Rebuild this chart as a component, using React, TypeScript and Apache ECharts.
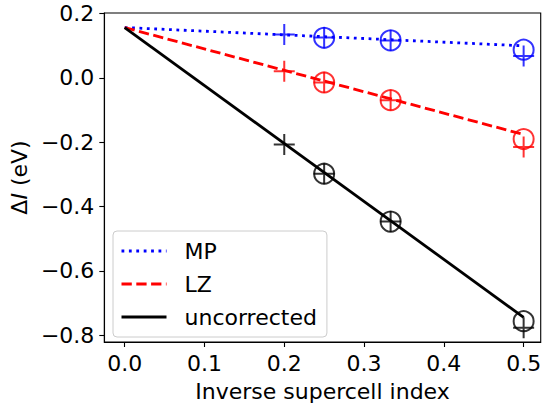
import React, { useEffect, useRef } from "react";
import * as echarts from "echarts";

// ---- data ----
const plusX = [0.2, 0.25, 0.3333, 0.5];
const circleX = [0.25, 0.3333, 0.5];
const fitX = [0, 0.5];

const mpPlus = [0.135, 0.126, 0.117, 0.068];
const mpCircle = [0.125, 0.117, 0.088];
const mpFit = [0.157, 0.1];

const lzPlus = [0.021, -0.014, -0.069, -0.215];
const lzCircle = [-0.014, -0.069, -0.19];
const lzFit = [0.157, -0.176];

const unPlus = [-0.207, -0.298, -0.447, -0.777];
const unCircle = [-0.298, -0.447, -0.757];
const unFit = [0.157, -0.745];

const xTicks = [0, 0.1, 0.2, 0.3, 0.4, 0.5];
const yTicks = [-0.8, -0.6, -0.4, -0.2, 0, 0.2];

const FONT = "DejaVu Sans";
const BLUE = "#0000ff";
const RED = "#ff0000";
const BLACK = "#000000";
const PLUS = "path://M10,0 L10,20 M0,10 L20,10";

const zip = (xs: number[], ys: number[]) => xs.map((x, i) => [x, ys[i]]);
const fmt = (v: number) => {
  const s = Math.abs(v).toFixed(1);
  return v < -1e-9 ? "\u2212" + s : s;
};

export default function App() {
  const ref = useRef<HTMLDivElement>(null);
  useEffect(() => {
    if (!ref.current) return;
    const chart = echarts.init(ref.current, null, { renderer: "svg" });

    const fitSeries = (name: string, ys: number[], color: string, type: any) => ({
      name,
      type: "line",
      data: zip(fitX, ys),
      symbol: "none",
      lineStyle: { color, width: 2.8, type, cap: "butt" },
      itemStyle: { color },
      z: 3,
    });
    const plusSeries = (name: string, ys: number[], color: string) => ({
      name,
      type: "scatter",
      data: zip(plusX, ys),
      symbol: PLUS,
      symbolSize: 21,
      itemStyle: { color: "transparent", borderColor: color, borderWidth: 2 },
      z: 4,
    });
    const circleSeries = (name: string, ys: number[], color: string) => ({
      name,
      type: "scatter",
      data: zip(circleX, ys),
      symbol: "circle",
      symbolSize: 20,
      itemStyle: { color: "transparent", borderColor: color, borderWidth: 2 },
      z: 4,
    });

    chart.setOption({
      animation: false,
      backgroundColor: "#fff",
      textStyle: { fontFamily: FONT },
      grid: {
        left: 101,
        top: 13,
        width: 442,
        height: 331,
        show: true,
        borderColor: BLACK,
        borderWidth: 1.1,
        backgroundColor: "transparent",
      },
      xAxis: {
        type: "value",
        min: -0.0255,
        max: 0.5214,
        name: "Inverse supercell index",
        nameLocation: "middle",
        nameGap: 38,
        nameTextStyle: { fontSize: 22, color: BLACK, fontFamily: FONT },
        axisLine: { show: true, onZero: false, lineStyle: { color: BLACK, width: 1.1 } },
        axisTick: {
          show: true,
          length: 5,
          inside: false,
          lineStyle: { color: BLACK, width: 1.1 },
          customValues: xTicks,
        },
        axisLabel: {
          fontSize: 22,
          color: BLACK,
          fontFamily: FONT,
          margin: 10,
          customValues: xTicks,
          formatter: (v: number) => fmt(v),
        },
        splitLine: { show: false },
      },
      yAxis: {
        type: "value",
        min: -0.8217,
        max: 0.2022,
        name: "{a|\u0394}{i|I}{a| (eV)}",
        nameLocation: "middle",
        nameRotate: 90,
        nameGap: 59,
        nameTextStyle: {
          fontSize: 22,
          color: BLACK,
          fontFamily: FONT,
          rich: {
            a: { fontSize: 22, color: BLACK, fontFamily: FONT },
            i: { fontSize: 22, color: BLACK, fontFamily: FONT, fontStyle: "italic" },
          },
        },
        axisLine: { show: true, onZero: false, lineStyle: { color: BLACK, width: 1.1 } },
        axisTick: {
          show: true,
          length: 5,
          inside: false,
          lineStyle: { color: BLACK, width: 1.1 },
          customValues: yTicks,
        },
        axisLabel: {
          fontSize: 22,
          color: BLACK,
          fontFamily: FONT,
          margin: 10,
          customValues: yTicks,
          formatter: (v: number) => fmt(v),
        },
        splitLine: { show: false },
      },
      legend: {
        orient: "vertical",
        left: 113,
        top: 231,
        data: ["MP", "LZ", "uncorrected"],
        itemWidth: 45,
        itemHeight: 14,
        itemGap: 11,
        padding: [9, 10, 9, 7],
        backgroundColor: "#fff",
        borderColor: "#cccccc",
        borderWidth: 1,
        borderRadius: 4,
        itemStyle: { color: "transparent", borderColor: "transparent", borderWidth: 0, opacity: 0 },
        lineStyle: { width: 3 },
        textStyle: { fontSize: 22, color: BLACK, fontFamily: FONT, padding: [0, 0, 0, 13] },
      },
      series: [
        fitSeries("MP", mpFit, BLUE, [2.8, 4.6]),
        fitSeries("LZ", lzFit, RED, [10.3, 4.5]),
        fitSeries("uncorrected", unFit, BLACK, "solid"),
        circleSeries("MP circles", mpCircle, BLUE),
        circleSeries("LZ circles", lzCircle, RED),
        circleSeries("uncorrected circles", unCircle, BLACK),
        plusSeries("MP plus", mpPlus, BLUE),
        plusSeries("LZ plus", lzPlus, RED),
        plusSeries("uncorrected plus", unPlus, BLACK),
      ],
    });
    return () => chart.dispose();
  }, []);
  return <div ref={ref} style={{ width: 544, height: 407, position: "absolute", left: 0, top: 0 }} />;
}
